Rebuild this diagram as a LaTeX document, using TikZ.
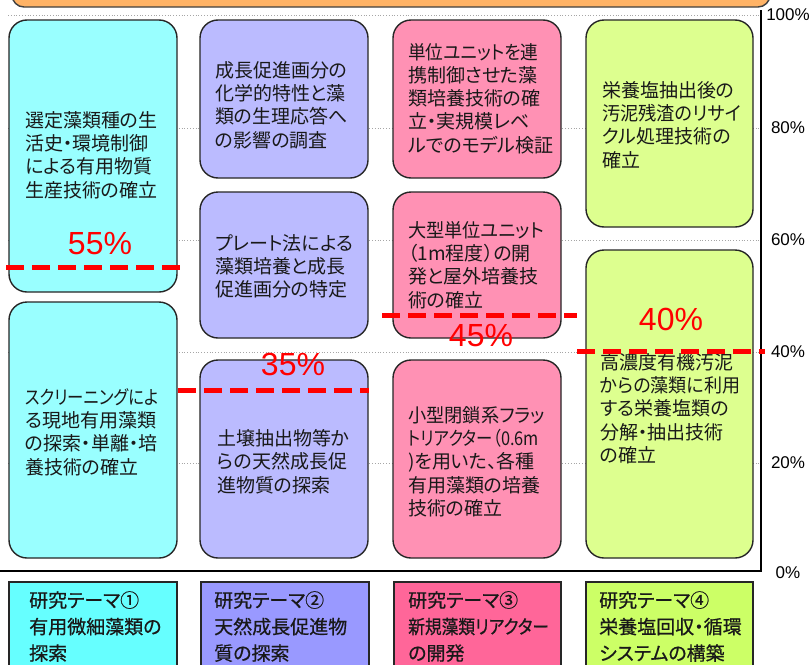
\documentclass[tikz,border=0pt]{standalone}
\usepackage{fontspec}
\usepackage{graphicx}
\setmainfont{Liberation Sans}
\newfontfamily\jp[RawFeature=+palt]{Noto Sans CJK JP}
\newfontfamily\jpb[RawFeature=+palt,FakeBold=0.6]{Noto Sans CJK JP}
\newcommand\sqz[2]{\scalebox{#1}[1]{#2}}
\definecolor{c1}{HTML}{99FFFF}
\definecolor{c2}{HTML}{BBBBFF}
\definecolor{c3}{HTML}{FF91B4}
\definecolor{c4}{HTML}{DDFF8F}
\definecolor{l1}{HTML}{66FFFF}
\definecolor{l2}{HTML}{9999FF}
\definecolor{l3}{HTML}{FF6699}
\definecolor{l4}{HTML}{CCFF66}
\definecolor{banner}{HTML}{FFB366}
\definecolor{redl}{HTML}{FF0000}
\begin{document}
\begin{tikzpicture}[x=1pt,y=-1pt,
  rbox/.style={draw=black!85, line width=1.4pt, rounded corners=18pt, inner sep=0pt},
  jtext/.style={font=\jp\fontsize{19}{23.3}\selectfont, align=left, anchor=west, inner sep=0pt, text=black!90},
  pct/.style={font=\fontsize{32}{32}\selectfont, text=redl, inner sep=0pt},
  redline/.style={redl, line width=5pt, dash pattern=on 18pt off 8pt},
  gridln/.style={gray!70, dotted, line width=0.8pt},
  axlab/.style={font=\fontsize{17}{17}\selectfont, inner sep=0pt},
  legbox/.style={draw=black!85, line width=1.4pt, inner sep=0pt},
  ltext/.style={font=\jpb\fontsize{19}{26.5}\selectfont, align=left, anchor=west, inner sep=0pt, text=black!90}
]
\useasboundingbox (0,0) rectangle (810,664);
\clip (0,0) rectangle (810,664);
\fill[white] (0,0) rectangle (810,664);

% banner (cut off at top)
\draw[fill=banner, draw=black!75, line width=1.4pt, rounded corners=12pt] (12,-40) rectangle (770,7);

% grid lines
\foreach \yy in {15,128,240,352,463} \draw[gridln] (8,\yy) -- (761,\yy);

% axis
\coordinate (axtop) at (761,10);
\coordinate (axbot) at (761,571);
\coordinate (axleft) at (0,571);
\draw[line width=1.4pt] (axtop) -- (axbot) -- (axleft);

\node[axlab] (p100) at (788,15) {100\%};
\node[axlab] (p80) at (788,128) {80\%};
\node[axlab] (p60) at (788,240) {60\%};
\node[axlab] (p40) at (788,352) {40\%};
\node[axlab] (p20) at (788,463) {20\%};
\node[axlab] (p0) at (788,573) {0\%};

% column 1
\node[rbox, fill=c1, minimum width=168pt, minimum height=272pt] (b1a) at (93,156) {};
\node[rbox, fill=c1, minimum width=168pt, minimum height=256pt] (b1b) at (93,430) {};
% column 2
\node[rbox, fill=c2, minimum width=168pt, minimum height=158pt] (b2a) at (284,99) {};
\node[rbox, fill=c2, minimum width=168pt, minimum height=146pt] (b2b) at (284,265) {};
\node[rbox, fill=c2, minimum width=168pt, minimum height=198pt] (b2c) at (284,459) {};
% column 3
\node[rbox, fill=c3, minimum width=168pt, minimum height=158pt] (b3a) at (477,99) {};
\node[rbox, fill=c3, minimum width=168pt, minimum height=146pt] (b3b) at (477,265) {};
\node[rbox, fill=c3, minimum width=168pt, minimum height=198pt] (b3c) at (477,459) {};
% column 4
\node[rbox, fill=c4, minimum width=167pt, minimum height=207pt] (b4a) at (669.5,123.5) {};
\node[rbox, fill=c4, minimum width=167pt, minimum height=308pt] (b4b) at (669.5,404) {};

% texts
\node[jtext] (t1a) at (25,155) {選定藻類種の生\\活史・環境制御\\による有用物質\\生産技術の確立};
\node[jtext] (t1b) at (25,432) {\sqz{0.86}{スクリーニングによ}\\る現地有用藻類\\の探索・単離・培\\養技術の確立};
\node[jtext] (t2a) at (215,105) {成長促進画分の\\化学的特性と藻\\類の生理応答へ\\の影響の調査};
\node[jtext] (t2b) at (215,266.5) {プレート法による\\藻類培養と成長\\促進画分の特定};
\node[jtext] (t2c) at (217,461.5) {土壌抽出物等か\\らの天然成長促\\進物質の探索};
\node[jtext] (t3a) at (408,98.5) {\sqz{0.93}{単位ユニットを連}\\携制御させた藻\\類培養技術の確\\立・実規模レベ\\ルでのモデル検証};
\node[jtext] (t3b) at (408,265) {\sqz{0.96}{大型単位ユニット}\\（1m程度）の開\\発と屋外培養技\\術の確立};
\node[jtext] (t3c) at (408,461.5) {\sqz{0.96}{小型閉鎖系フラッ}\\\sqz{0.86}{トリアクター（0.6m}\\)を用いた、各種\\有用藻類の培養\\技術の確立};
\node[jtext] (t4a) at (602,125) {栄養塩抽出後の\\\sqz{0.96}{汚泥残渣のリサイ}\\クル処理技術の\\確立};
\node[jtext] (t4b) at (600,408.5) {高濃度有機汚泥\\\sqz{0.95}{からの藻類に利用}\\する栄養塩類の\\分解・抽出技術\\の確立};

% red dashed levels
\coordinate (r55a) at (6,267);   \coordinate (r55b) at (184,267);
\coordinate (r35a) at (178,390); \coordinate (r35b) at (369,390);
\coordinate (r45a) at (382,315); \coordinate (r45b) at (577,315);
\coordinate (r40a) at (577,351); \coordinate (r40b) at (765,351);
\draw[redline] (r55a) -- (r55b);
\draw[redline] (r35a) -- (r35b);
\draw[redline] (r45a) -- (r45b);
\draw[redline] (r40a) -- (r40b);
\node[pct] (v55) at (100,244) {55\%};
\node[pct] (v35) at (293,364) {35\%};
\node[pct] (v45) at (481,336) {45\%};
\node[pct] (v40) at (671,319) {40\%};

% legend
\node[legbox, fill=l1, minimum width=168pt, minimum height=118pt] (L1) at (93,641) {};
\node[legbox, fill=l2, minimum width=168pt, minimum height=118pt] (L2) at (285,641) {};
\node[legbox, fill=l3, minimum width=167pt, minimum height=118pt] (L3) at (477.5,641) {};
\node[legbox, fill=l4, minimum width=167pt, minimum height=118pt] (L4) at (669.5,641) {};
\node[ltext] (lt1) at (29,626.5) {研究テーマ①\\有用微細藻類の\\探索};
\node[ltext] (lt2) at (214,626.5) {研究テーマ②\\天然成長促進物\\質の探索};
\node[ltext] (lt3) at (408,626.5) {研究テーマ③\\\sqz{0.88}{新規藻類リアクター}\\の開発};
\node[ltext] (lt4) at (599,626.5) {研究テーマ④\\栄養塩回収・循環\\システムの構築};
\end{tikzpicture}
\end{document}
